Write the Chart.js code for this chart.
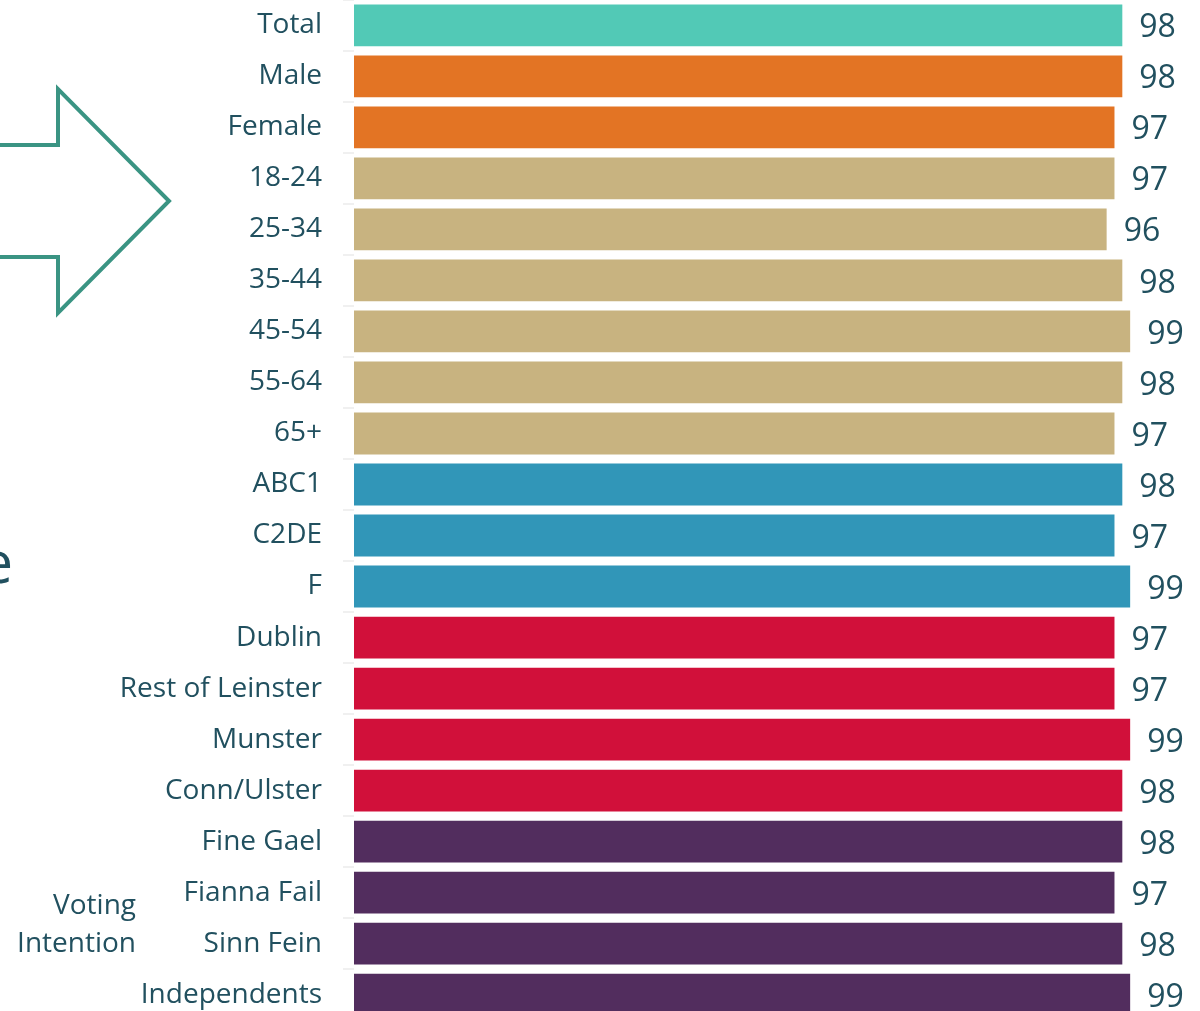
<!DOCTYPE html>
<html>
<head>
<meta charset="utf-8">
<script src="https://cdn.jsdelivr.net/npm/chart.js@4/dist/chart.umd.min.js"></script>
<style>
    html, body { margin: 0; padding: 0; background: #fff; overflow: hidden; }
    #wrap { position: relative; width: 1200px; height: 1011px; overflow: hidden; }
    #barChart { position: absolute; left: 0; top: -38px; }
</style>
</head>
<body>
<div id="wrap"><canvas id="barChart" width="1200" height="1096"></canvas></div>
<script>
// Categories and scores
const categories = [
    "Total", "Male", "Female",
    "18-24", "25-34", "35-44", "45-54", "55-64", "65+",
    "ABC1", "C2DE", "F",
    "Dublin", "Rest of Leinster", "Munster", "Conn/Ulster",
    "Fine Gael", "Fianna Fail", "Sinn Fein", "Independents",
];
const scores = [98, 98, 97, 97, 96, 98, 99, 98, 97, 98, 97, 99, 97, 97, 99, 98, 98, 97, 98, 99];
const groupOf = [0, 1, 1, 2, 2, 2, 2, 2, 2, 3, 3, 3, 4, 4, 4, 4, 5, 5, 5, 5];
const groupColors = ["#52c9b6", "#e37424", "#c8b380", "#3196b8", "#d1103a", "#522d5e"];

const textColor = "#21505f";
const fontFamily = "'Open Sans', sans-serif";
const shiftY = 38; // canvas sits this far above the page top

// Value labels to the right of each bar
const valueLabels = {
    id: "valueLabels",
    afterDatasetsDraw(chart) {
        const ctx = chart.ctx;
        const meta = chart.getDatasetMeta(0);
        ctx.save();
        ctx.font = "32px " + fontFamily;
        ctx.fillStyle = textColor;
        ctx.textAlign = "left";
        ctx.textBaseline = "middle";
        meta.data.forEach((bar, i) => {
            ctx.fillText(String(scores[i]), bar.x + 17, bar.y + 3);
        });
        ctx.restore();
    },
};

// Arrow outline and side captions
const sideNotes = {
    id: "sideNotes",
    afterDraw(chart) {
        const ctx = chart.ctx;
        ctx.save();
        ctx.translate(0, shiftY);
        ctx.strokeStyle = "#3a9483";
        ctx.lineWidth = 4;
        ctx.lineJoin = "miter";
        ctx.beginPath();
        ctx.moveTo(-10, 145);
        ctx.lineTo(58, 145);
        ctx.lineTo(58, 89);
        ctx.lineTo(169, 201);
        ctx.lineTo(58, 313);
        ctx.lineTo(58, 257);
        ctx.lineTo(-10, 257);
        ctx.stroke();

        ctx.fillStyle = textColor;
        ctx.textAlign = "right";
        ctx.textBaseline = "alphabetic";
        ctx.font = "58px " + fontFamily;
        ctx.fillText("e", 13, 583);

        ctx.font = "28px " + fontFamily;
        ctx.fillText("Voting", 136, 914);
        ctx.fillText("Intention", 136, 952);
        ctx.restore();
    },
};

new Chart(document.getElementById("barChart"), {
    type: "bar",
    data: {
        labels: categories,
        datasets: [
            {
                data: scores,
                backgroundColor: groupOf.map((g) => groupColors[g]),
                borderWidth: 0,
                barPercentage: 0.82,
                categoryPercentage: 1,
            },
        ],
    },
    options: {
        indexAxis: "y",
        responsive: false,
        animation: false,
        layout: { padding: { left: 0, right: 62, top: 0, bottom: 0 } },
        plugins: {
            legend: { display: false },
            tooltip: { enabled: false },
        },
        scales: {
            x: {
                display: false,
                min: 0,
                max: 100,
            },
            y: {
                afterFit(scale) {
                    scale.width = 354;
                },
                border: { display: false },
                grid: {
                    drawOnChartArea: false,
                    drawTicks: true,
                    tickLength: 11,
                    color: "#f0f0f0",
                    lineWidth: 2,
                },
                ticks: {
                    color: textColor,
                    padding: 21,
                    font: { family: "'Open Sans', sans-serif", size: 28 },
                },
            },
        },
    },
    plugins: [valueLabels, sideNotes],
});
</script>
</body>
</html>
